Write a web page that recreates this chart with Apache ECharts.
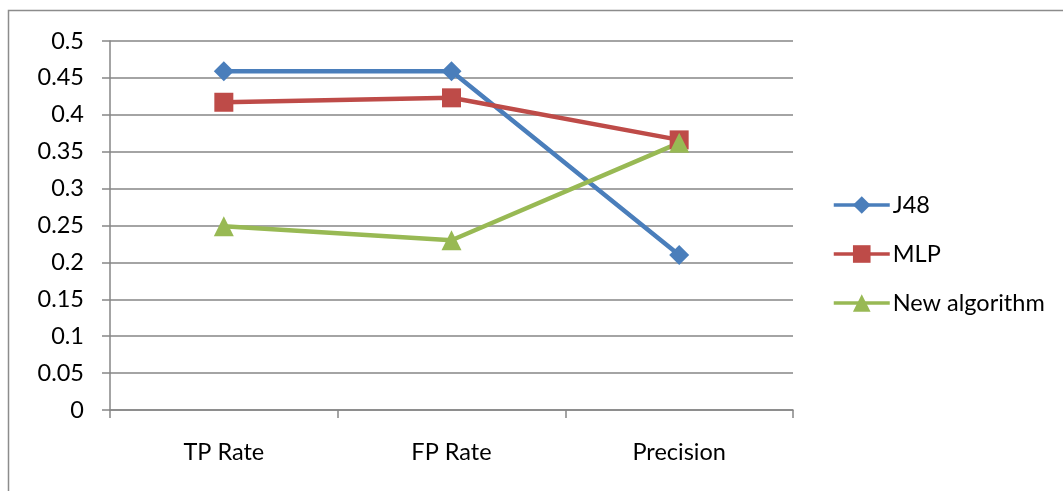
<!DOCTYPE html>
<html><head><meta charset="utf-8">
<script src="https://cdn.jsdelivr.net/npm/echarts@6/dist/echarts.min.js"></script>
<style>html,body{margin:0;padding:0;background:#fff}#c{width:1063px;height:491px}</style>
</head><body><div id="c"></div>
<script>
const categories = ['TP Rate', 'FP Rate', 'Precision'];
const j48 = [0.459, 0.459, 0.210];
const mlp = [0.417, 0.423, 0.366];
const newAlg = [0.249, 0.230, 0.362];
const yMin = 0, yMax = 0.5, yStep = 0.05;

const font = 'Lato';
const fs = 23.5;
const chart = echarts.init(document.getElementById('c'), null, {renderer: 'canvas'});
function line(name, data, color, symbol, size) {
  return {
    name, type: 'line', data, symbol, symbolSize: size,
    lineStyle: {color, width: 4.5},
    itemStyle: {color, borderWidth: 0},
    emphasis: {disabled: true}, animation: false
  };
}
chart.setOption({
  animation: false,
  textStyle: {fontFamily: font, color: '#000'},
  graphic: [{type: 'rect', shape: {x: 8.5, y: 10.5, width: 1200, height: 600},
    style: {fill: 'none', stroke: '#8c8c8c', lineWidth: 1.5}, silent: true}],
  grid: {left: 110, right: 270, top: 41, bottom: 81, containLabel: false},
  xAxis: {
    type: 'category', data: categories, boundaryGap: true,
    axisLine: {lineStyle: {color: '#868686', width: 1.5}},
    axisTick: {show: true, length: 8, lineStyle: {color: '#868686', width: 1.5}},
    axisLabel: {fontSize: fs, fontFamily: font, color: '#000', margin: 30}
  },
  yAxis: {
    type: 'value', min: yMin, max: yMax, interval: yStep,
    axisLine: {show: true, lineStyle: {color: '#868686', width: 1.5}},
    axisTick: {show: true, length: 8, lineStyle: {color: '#868686', width: 1.5}},
    splitLine: {show: true, lineStyle: {color: '#868686', width: 1.5}},
    axisLabel: {fontSize: fs, fontFamily: font, color: '#000', margin: 26,
      formatter: v => String(+v.toFixed(2))}
  },
  legend: {
    orient: 'vertical', left: 827, top: 188,
    itemWidth: 56, itemHeight: 22, itemGap: 25,
    lineStyle: {width: 3.5},
    textStyle: {fontSize: fs, fontFamily: font, color: '#000', padding: [0,0,0,-2]},
    data: ['J48', 'MLP', 'New algorithm']
  },
  series: [
    line('J48', j48, '#4A7EBB', 'diamond', 20),
    line('MLP', mlp, '#BE4B48', 'rect', 19),
    line('New algorithm', newAlg, '#98B954', 'triangle', 20)
  ]
});
</script></body></html>
